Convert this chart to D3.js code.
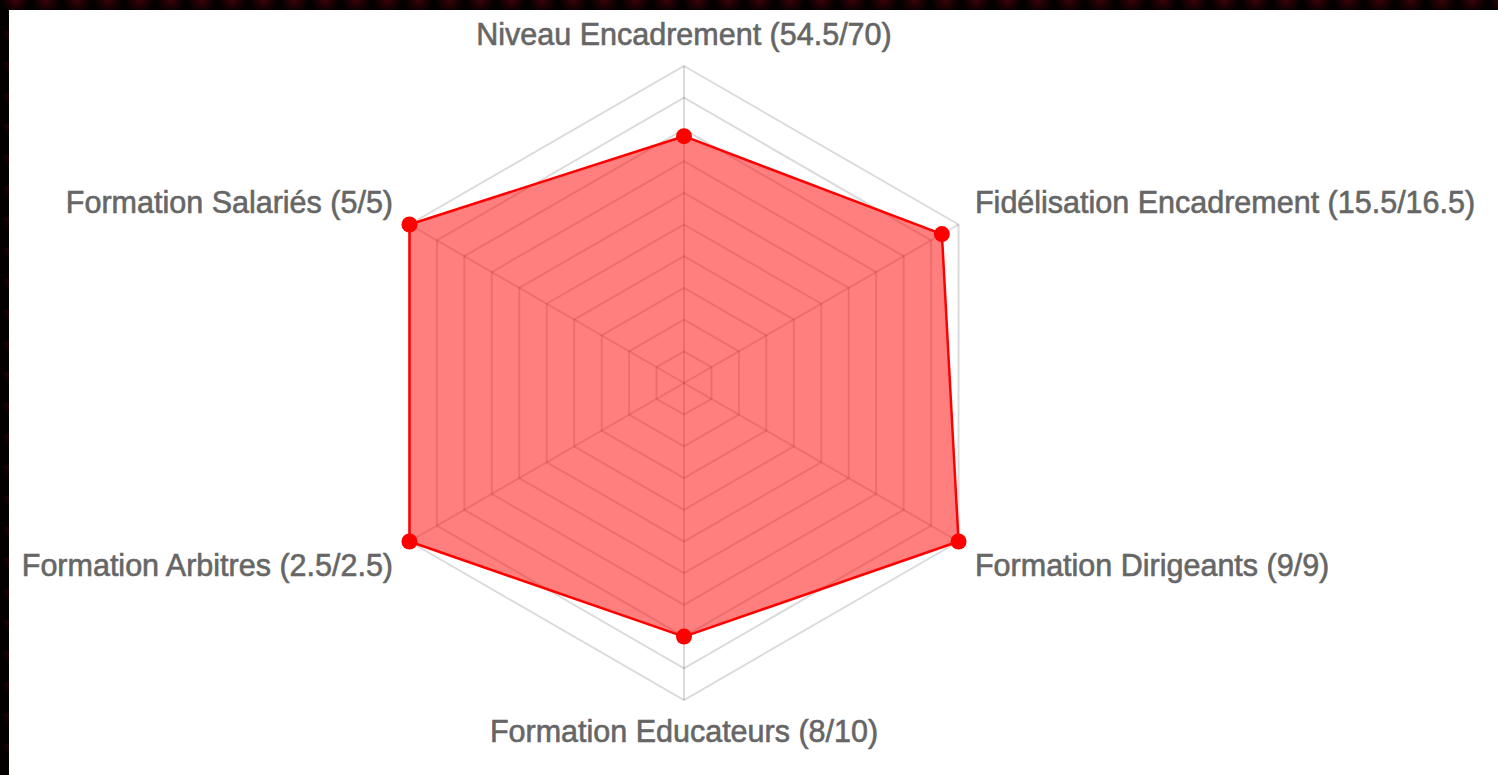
<!DOCTYPE html>
<html lang="fr">
<head>
  <meta charset="utf-8" />
  <title>Radar</title>
  <script src="https://cdn.jsdelivr.net/npm/d3@7"></script>
  <style>
    html, body {
      margin: 0;
      padding: 0;
      overflow: hidden;
    }
    body {
      background-color: #050000;
      background-image: radial-gradient(circle at 50% 0%, #3b0309 0, #1a0104 8px, rgba(0,0,0,0) 14px);
      background-size: 31px 31px;
    }
    #graph {
      position: absolute;
      left: 9px;
      top: 10px;
      width: 1489px;
      height: 765px;
      background: #ffffff;
    }
  </style>
</head>
<body>
  <div id="graph"></div>
  <script>
    // Axis names, scores and maximum score per axis
    const axes = [
      "Niveau Encadrement",
      "Fidélisation Encadrement",
      "Formation Dirigeants",
      "Formation Educateurs",
      "Formation Arbitres",
      "Formation Salariés"
    ];
    const scores = [54.5, 15.5, 9, 8, 2.5, 5];
    const maxima = [70, 16.5, 9, 10, 2.5, 5];
    const levels = d3.range(1, 11).map(d => d / 10);

    // Page dimensions (svg sits inside the white panel)
    const width = 1489;
    const height = 765;
    const cx = 684 - 9;
    const cy = 383 - 10;
    const radius = 317;

    const r = d3.scaleLinear().domain([0, 1]).range([0, radius]);
    const angle = d3.scaleLinear().domain([0, axes.length]).range([0, 2 * Math.PI]);

    function pt(i, v) {
      const a = angle(i);
      return [Math.sin(a) * r(v), -Math.cos(a) * r(v)];
    }

    const svg = d3.select("#graph")
      .append("svg")
      .attr("width", width)
      .attr("height", height)
      .append("g")
      .attr("transform", `translate(${cx}, ${cy})`);

    // Grid rings
    svg.append("g")
      .selectAll("polygon")
      .data(levels)
      .enter()
      .append("polygon")
      .attr("points", lv => axes.map((a, i) => pt(i, lv).join(",")).join(" "))
      .attr("fill", "none")
      .attr("stroke", "rgba(0,0,0,0.14)")
      .attr("stroke-width", 2);

    // Spokes
    svg.append("g")
      .selectAll("line")
      .data(axes)
      .enter()
      .append("line")
      .attr("x1", 0)
      .attr("y1", 0)
      .attr("x2", (a, i) => pt(i, 1)[0])
      .attr("y2", (a, i) => pt(i, 1)[1])
      .attr("stroke", "rgba(0,0,0,0.14)")
      .attr("stroke-width", 2);

    // Dataset polygon
    const ratios = scores.map((s, i) => s / maxima[i]);
    const line = d3.lineRadial()
      .angle((d, i) => angle(i))
      .radius(d => r(d))
      .curve(d3.curveLinearClosed);

    svg.append("path")
      .datum(ratios)
      .attr("d", line)
      .attr("fill", "rgba(255,0,0,0.5)")
      .attr("stroke", "#ff0000")
      .attr("stroke-width", 2.5)
      .attr("stroke-linejoin", "round");

    svg.append("g")
      .selectAll("circle")
      .data(ratios)
      .enter()
      .append("circle")
      .attr("cx", (d, i) => pt(i, d)[0])
      .attr("cy", (d, i) => pt(i, d)[1])
      .attr("r", 8)
      .attr("fill", "#ff0000");

    // Point labels
    const pad = 19;
    svg.append("g")
      .selectAll("text")
      .data(axes)
      .enter()
      .append("text")
      .each(function (name, i) {
        const a = angle(i);
        const x = Math.sin(a) * (radius + pad);
        const y = -Math.cos(a) * (radius + pad);
        const s = Math.sin(a), c = Math.cos(a);
        let anchor = "middle";
        if (s > 0.01) anchor = "start";
        else if (s < -0.01) anchor = "end";
        let by;
        if (c > 0.99) by = y - 2;          // top label
        else if (c < -0.99) by = y + 23;   // bottom label
        else if (c > 0) by = y - 2;        // upper sides
        else by = y + 25;                  // lower sides
        d3.select(this)
          .attr("x", x)
          .attr("y", by)
          .attr("text-anchor", anchor)
          .text(`${name} (${scores[i]}/${maxima[i]})`);
      })
      .attr("fill", "#666666")
      .attr("stroke", "#666666")
      .attr("stroke-width", 0.6)
      .style("font-family", "'Liberation Sans', Arial, sans-serif")
      .style("font-size", "30.5px");
  </script>
</body>
</html>
